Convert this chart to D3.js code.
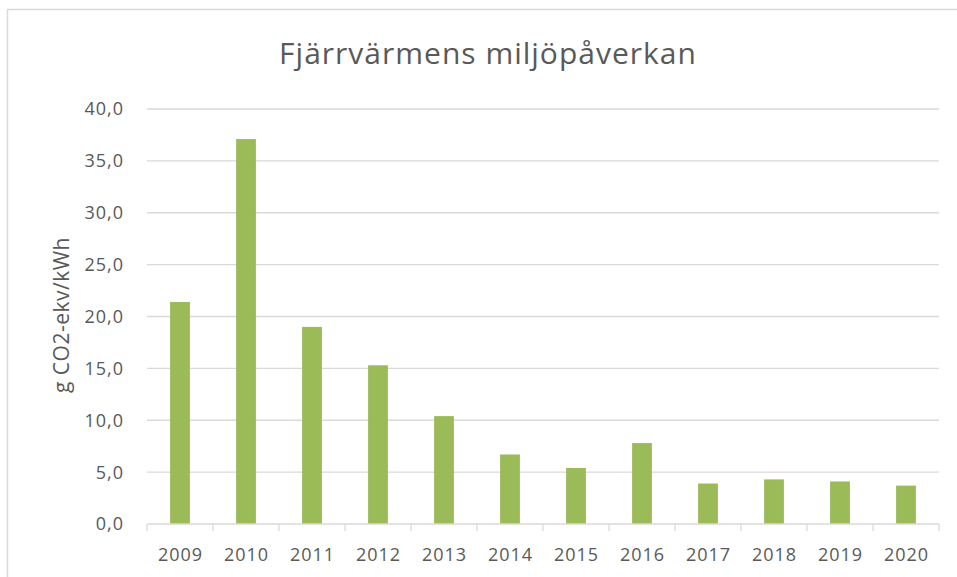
<!DOCTYPE html>
<html>
<head>
<meta charset="utf-8">
<script src="https://cdn.jsdelivr.net/npm/d3@7"></script>
<style>
  body { margin: 0; background: #fff; }
  text { font-family: "Open Sans", sans-serif; fill: #595959; }
</style>
</head>
<body>
<div class="chart"></div>
<script>
const years = ["2009", "2010", "2011", "2012", "2013", "2014", "2015", "2016", "2017", "2018", "2019", "2020"];
const values = [21.4, 37.1, 19.0, 15.3, 10.4, 6.7, 5.4, 7.8, 3.9, 4.3, 4.1, 3.7];
const yTicks = [0, 5, 10, 15, 20, 25, 30, 35, 40];
const title = "Fjärrvärmens miljöpåverkan";
const yLabel = "g CO2-ekv/kWh";

const width = 957;
const height = 577;
const margin = {top: 109, right: 18, bottom: 53, left: 147};

const svg = d3.select('.chart')
    .append('svg')
    .attr('width', width)
    .attr('height', height);

// outer chart frame (only top and left edges visible)
svg.append("path")
    .attr("d", "M7.5,577 V9.5 H957")
    .attr("fill", "none")
    .attr("stroke", "#d9d9d9")
    .attr("stroke-width", 1.5);

const x = d3.scaleBand()
    .domain(years)
    .range([margin.left, width - margin.right])
    .paddingInner(0.7)
    .paddingOuter(0.35);

const xOuter = d3.scaleBand()
    .domain(years)
    .range([margin.left, width - margin.right]);

const y = d3.scaleLinear()
    .domain([0, 40])
    .range([height - margin.bottom, margin.top]);

// gridlines
svg.append("g")
    .selectAll("line")
    .data(yTicks.filter(d => d > 0))
    .enter()
    .append("line")
    .attr("x1", margin.left)
    .attr("x2", width - margin.right)
    .attr("y1", d => y(d))
    .attr("y2", d => y(d))
    .attr("stroke", "#d9d9d9")
    .attr("stroke-width", 1.3);

// y tick labels
svg.append("g")
    .selectAll("text")
    .data(yTicks)
    .enter()
    .append("text")
    .text(d => d.toFixed(1).replace(".", ","))
    .attr("x", 124)
    .attr("y", d => y(d))
    .attr("dy", "0.36em")
    .attr("text-anchor", "end")
    .attr("font-size", "18px")
    .attr("letter-spacing", "1px");

// bars
svg.append("g")
    .selectAll("rect")
    .data(values)
    .enter()
    .append("rect")
    .attr("x", (d, i) => x(years[i]))
    .attr("y", d => y(d))
    .attr("width", x.bandwidth())
    .attr("height", d => y(0) - y(d))
    .attr("fill", "#9bbb59");

// x axis baseline and ticks
const baseY = y(0);
svg.append("line")
    .attr("x1", margin.left)
    .attr("x2", width - margin.right)
    .attr("y1", baseY)
    .attr("y2", baseY)
    .attr("stroke", "#d9d9d9")
    .attr("stroke-width", 1.3);

const tickPos = years.map(d => xOuter(d)).concat([width - margin.right]);
svg.append("g")
    .selectAll("line")
    .data(tickPos)
    .enter()
    .append("line")
    .attr("x1", d => d)
    .attr("x2", d => d)
    .attr("y1", baseY)
    .attr("y2", baseY + 7)
    .attr("stroke", "#d9d9d9")
    .attr("stroke-width", 1.3);

// x labels
svg.append("g")
    .selectAll("text")
    .data(years)
    .enter()
    .append("text")
    .text(d => d)
    .attr("x", d => xOuter(d) + xOuter.bandwidth() / 2 + 0.5)
    .attr("y", 561)
    .attr("text-anchor", "middle")
    .attr("font-size", "18px")
    .attr("letter-spacing", "1px");

// title
svg.append("text")
    .text(title)
    .attr("x", 488)
    .attr("y", 64)
    .attr("text-anchor", "middle")
    .attr("font-size", "30px")
    .attr("letter-spacing", "1px");

// y axis label
svg.append("text")
    .text(yLabel)
    .attr("transform", "translate(69,315) rotate(-90)")
    .attr("text-anchor", "middle")
    .attr("font-size", "21px")
    .attr("letter-spacing", "0.5px");
</script>
</body>
</html>
